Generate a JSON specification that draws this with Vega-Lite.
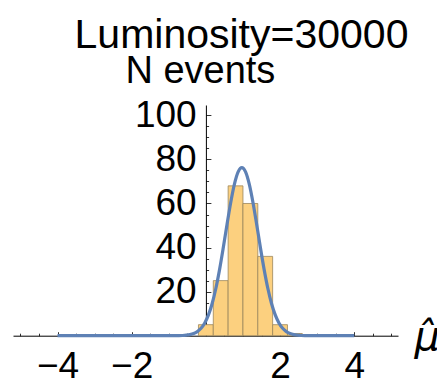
{
  "$schema": "https://vega.github.io/schema/vega-lite/v6.json",
  "width": 385,
  "height": 230.7,
  "autosize": "none",
  "padding": {"left": 13, "top": 105, "right": 39, "bottom": 47.3},
  "background": "white",
  "config": {"view": {"stroke": null}, "font": "Liberation Sans"},
  "title": {
    "text": "Luminosity=30000",
    "fontSize": 41,
    "font": "Liberation Sans",
    "fontWeight": "normal",
    "color": "black",
    "anchor": "middle",
    "dx": 36,
    "dy": 37,
    "baseline": "alphabetic",
    "offset": 0
  },
  "datasets": {
    "bars": [
      {"start": -0.2, "end": 0.2, "count": 5},
      {"start": 0.2, "end": 0.6, "count": 25},
      {"start": 0.6, "end": 1.0, "count": 68},
      {"start": 1.0, "end": 1.4, "count": 60},
      {"start": 1.4, "end": 1.8, "count": 36},
      {"start": 1.8, "end": 2.2, "count": 5},
      {"start": 2.2, "end": 2.6, "count": 1}
    ],
    "curve": [
      {"x": -4, "y": 0},
      {"x": -2, "y": 0},
      {"x": -0.83, "y": 0.02},
      {"x": -0.63, "y": 0.10},
      {"x": -0.53, "y": 0.23},
      {"x": -0.43, "y": 0.48},
      {"x": -0.33, "y": 0.97},
      {"x": -0.23, "y": 1.85},
      {"x": -0.13, "y": 3.35},
      {"x": -0.03, "y": 5.77},
      {"x": 0.07, "y": 9.42},
      {"x": 0.17, "y": 14.61},
      {"x": 0.27, "y": 21.52},
      {"x": 0.37, "y": 30.11},
      {"x": 0.47, "y": 40.0},
      {"x": 0.57, "y": 50.47},
      {"x": 0.67, "y": 60.48},
      {"x": 0.77, "y": 68.81},
      {"x": 0.87, "y": 74.36},
      {"x": 0.97, "y": 76.3},
      {"x": 1.07, "y": 74.36},
      {"x": 1.17, "y": 68.81},
      {"x": 1.27, "y": 60.48},
      {"x": 1.37, "y": 50.47},
      {"x": 1.47, "y": 40.0},
      {"x": 1.57, "y": 30.11},
      {"x": 1.67, "y": 21.52},
      {"x": 1.77, "y": 14.61},
      {"x": 1.87, "y": 9.42},
      {"x": 1.97, "y": 5.77},
      {"x": 2.07, "y": 3.35},
      {"x": 2.17, "y": 1.85},
      {"x": 2.27, "y": 0.97},
      {"x": 2.37, "y": 0.48},
      {"x": 2.47, "y": 0.23},
      {"x": 2.57, "y": 0.10},
      {"x": 2.77, "y": 0.02},
      {"x": 3.5, "y": 0},
      {"x": 4, "y": 0}
    ]
  },
  "resolve": {"axis": {"x": "independent", "y": "independent"}},
  "layer": [
    {
      "data": {"name": "bars"},
      "mark": {"type": "rect", "fill": "#fcd07f", "stroke": "#9c865c", "strokeWidth": 0.8},
      "encoding": {
        "x": {
          "field": "start",
          "type": "quantitative",
          "scale": {"domain": [-5.2, 5.18], "nice": false, "zero": false},
          "axis": {
            "orient": "bottom",
            "values": [-4, -2, 2, 4],
            "tickSize": -4,
            "tickColor": "black",
            "tickWidth": 0.8,
            "domainColor": "black",
            "domainWidth": 1,
            "grid": false,
            "labelFontSize": 37,
            "labelColor": "black",
            "labelFont": "Liberation Sans",
            "labelBaseline": "alphabetic",
            "labelPadding": 45.5,
            "labelOverlap": false,
            "labelFlush": false,
            "title": "μ̂",
            "titleX": 401,
            "titleY": 14,
            "titleAlign": "left",
            "titleBaseline": "alphabetic",
            "titleFontSize": 40,
            "titleFontStyle": "italic",
            "titleFontWeight": "normal",
            "titleFont": "DejaVu Sans",
            "titleColor": "black"
          }
        },
        "x2": {"field": "end"},
        "y": {
          "field": "count",
          "type": "quantitative",
          "scale": {"domain": [0, 104.7], "nice": false},
          "axis": {
            "orient": "left",
            "offset": -192.9,
            "values": [20, 40, 60, 80, 100],
            "tickSize": -5,
            "tickColor": "black",
            "tickWidth": 0.8,
            "domainColor": "black",
            "domainWidth": 1,
            "grid": false,
            "labelFontSize": 37,
            "labelColor": "black",
            "labelFont": "Liberation Sans",
            "labelPadding": 14.7,
            "labelOverlap": false,
            "labelFlush": false,
            "title": "N events",
            "titleAngle": 0,
            "titleX": -6,
            "titleY": -23,
            "titleAlign": "center",
            "titleBaseline": "alphabetic",
            "titleFontSize": 38,
            "titleFontWeight": "normal",
            "titleFont": "Liberation Sans",
            "titleColor": "black"
          }
        },
        "y2": {"datum": 0}
      }
    },
    {
      "data": {"name": "curve"},
      "mark": {"type": "line", "color": "#5e81b5", "strokeWidth": 3.2, "interpolate": "monotone"},
      "encoding": {
        "x": {
          "field": "x",
          "type": "quantitative",
          "axis": {
            "orient": "bottom",
            "values": [-5, -4.5, -3.5, -3, -2.5, -1.5, -1, -0.5, 0.5, 1, 1.5, 2.5, 3, 3.5, 4.5, 5],
            "tickSize": -2.5,
            "tickColor": "black",
            "tickWidth": 0.8,
            "domain": false,
            "labels": false,
            "grid": false,
            "title": null
          }
        },
        "y": {
          "field": "y",
          "type": "quantitative",
          "axis": {
            "orient": "left",
            "offset": -192.9,
            "values": [5, 10, 15, 25, 30, 35, 45, 50, 55, 65, 70, 75, 85, 90, 95],
            "tickSize": -2.7,
            "tickColor": "black",
            "tickWidth": 0.8,
            "domain": false,
            "labels": false,
            "grid": false,
            "title": null
          }
        }
      }
    }
  ]
}
